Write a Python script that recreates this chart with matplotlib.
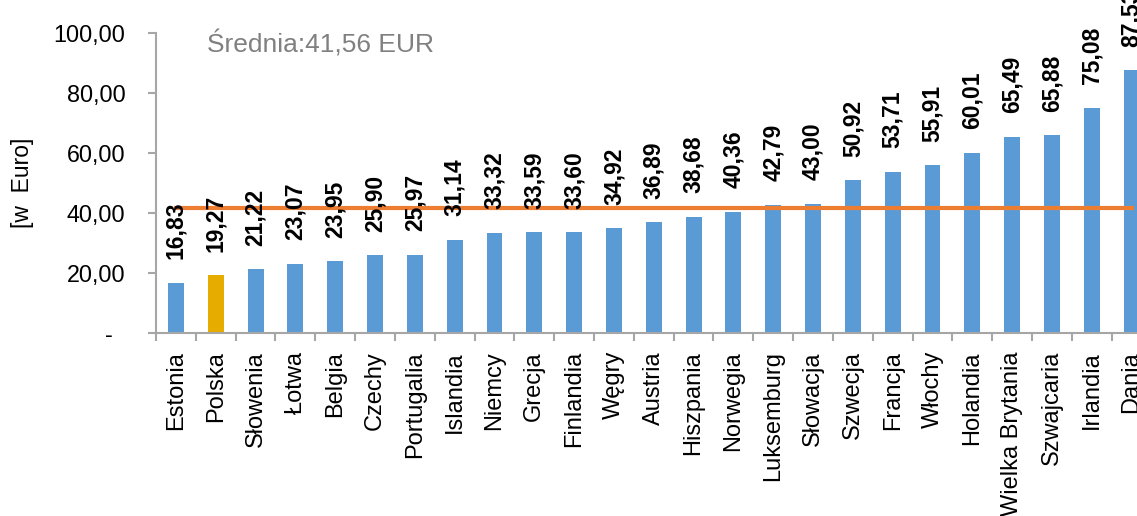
import numpy as np
import matplotlib.pyplot as plt

kraje = ["Estonia", "Polska", "Słowenia", "Łotwa", "Belgia", "Czechy", "Portugalia",
         "Islandia", "Niemcy", "Grecja", "Finlandia", "Węgry", "Austria", "Hiszpania",
         "Norwegia", "Luksemburg", "Słowacja", "Szwecja", "Francja", "Włochy",
         "Holandia", "Wielka Brytania", "Szwajcaria", "Irlandia", "Dania"]
ceny = [16.83, 19.27, 21.22, 23.07, 23.95, 25.90, 25.97, 31.14, 33.32, 33.59, 33.60,
        34.92, 36.89, 38.68, 40.36, 42.79, 43.00, 50.92, 53.71, 55.91, 60.01, 65.49,
        65.88, 75.08, 87.53]
srednia = 41.56
yticks = [0, 20, 40, 60, 80, 100]

font = "Liberation Sans"
szary = "#A6A6A6"

fig = plt.figure(figsize=(11.37, 5.16), dpi=100)
ax = fig.add_axes([156 / 1137, 183 / 516, (1151.5 - 156) / 1137, 300 / 516])

x = np.arange(len(kraje))
kolory = ["#E6AC00" if k == "Polska" else "#5B9BD5" for k in kraje]
ax.bar(x, ceny, width=0.4, color=kolory, zorder=2)
ax.plot([x[0], x[-1]], [srednia, srednia], color="#ED7D31", lw=3, zorder=3)

for xi, v in zip(x, ceny):
    ax.annotate(f"{v:.2f}".replace(".", ","), (xi, v), xytext=(0, 17), textcoords="offset points",
                rotation=90, ha="center", va="bottom", fontsize=16.5, fontweight="bold",
                family=font, zorder=4, annotation_clip=False)

ax.set_xlim(-0.5, len(kraje) - 0.5)
ax.set_ylim(0, 100)
ax.set_xticks(x)
ax.set_xticklabels(kraje, rotation=90, family=font, fontsize=17)
ax.set_xticks(np.arange(len(kraje) + 1) - 0.5, minor=True)
ax.tick_params(axis="x", which="major", length=0, pad=13)
ax.tick_params(axis="x", which="minor", length=6, width=1.5, color=szary, direction="out")

ax.set_yticks(yticks)
ax.set_yticklabels(["-  " if t == 0 else f"{t:.2f}".replace(".", ",") for t in yticks],
                   family=font, fontsize=16.8)
ax.tick_params(axis="y", length=6, width=1.5, color=szary, pad=16)

for s in ["top", "right"]:
    ax.spines[s].set_visible(False)
for s in ["left", "bottom"]:
    ax.spines[s].set_color(szary)
    ax.spines[s].set_linewidth(1.5)

fig.text(22 / 1137, 333 / 516, "[w  Euro]", rotation=90, ha="center", va="center",
         family=font, fontsize=16.5)
ax.text(207, 516 - 44, "Średnia:41,56 EUR", transform=None, ha="left", va="center",
        family="Liberation Sans", fontsize=19, color="#808080")

fig.savefig("out.png", dpi=100)
